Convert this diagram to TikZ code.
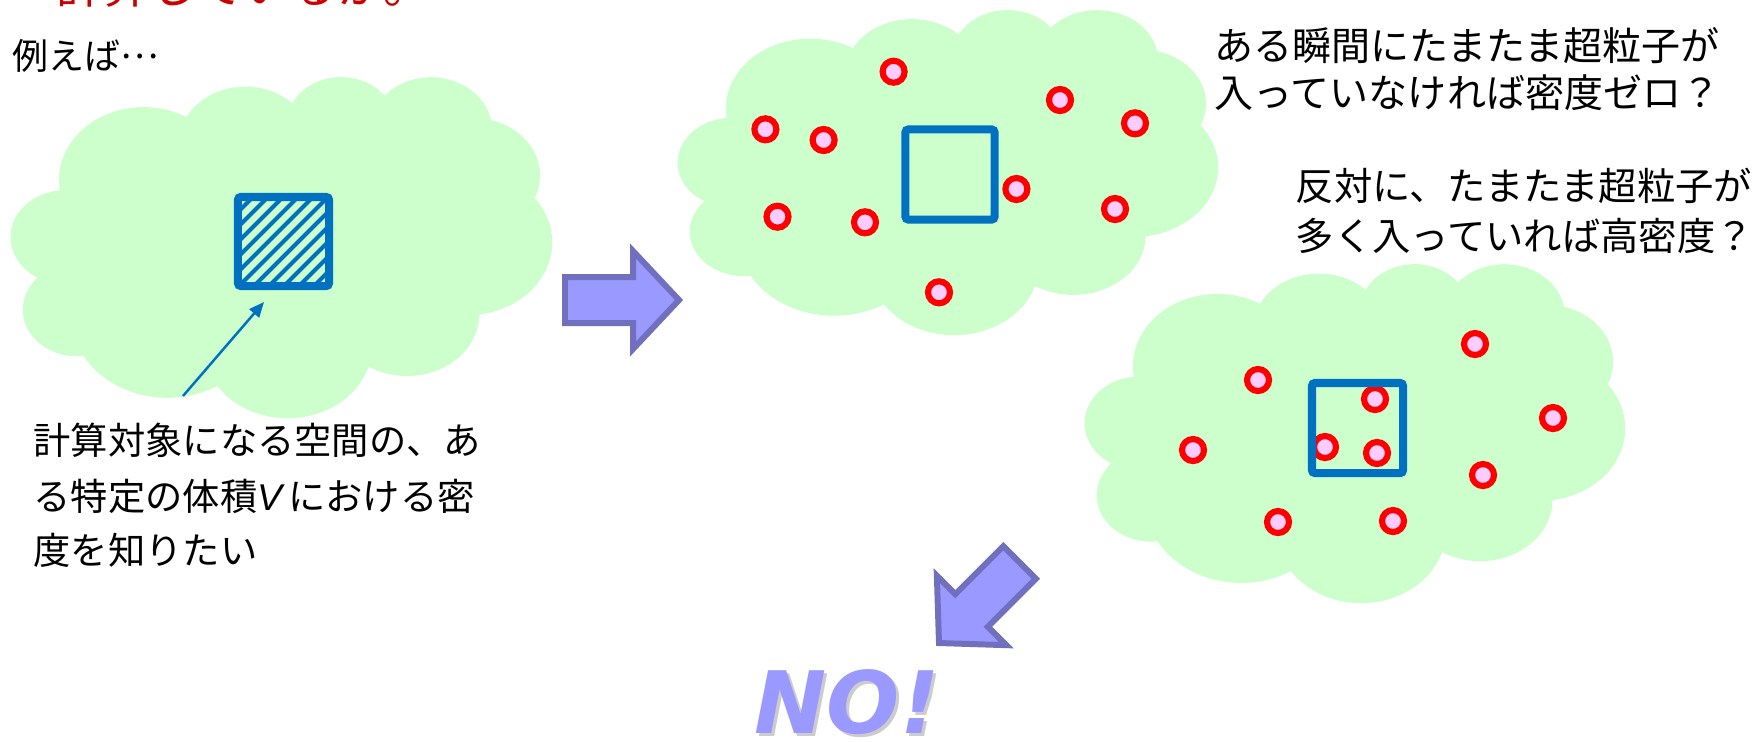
\documentclass[tikz,border=0pt]{standalone}
\usepackage{fontspec}
\setmainfont{Noto Sans CJK JP}
\newfontfamily\latinit{Liberation Sans}
\newfontfamily\nofont{DejaVu Sans}
\usetikzlibrary{arrows.meta}

\definecolor{cloudgreen}{RGB}{204,255,204}
\definecolor{dotpink}{RGB}{255,204,255}
\definecolor{dotred}{RGB}{255,0,0}
\definecolor{boxblue}{RGB}{0,112,192}
\definecolor{arrfill}{RGB}{153,153,255}
\definecolor{arrline}{RGB}{112,112,190}
\definecolor{titlered}{RGB}{204,0,0}

\makeatletter
% convert a DrawingML (view-angle) arc to parametric start/end angles
\newcommand\cldcalc[5]{%
  \pgfmathsetmacro\cld@b{#4+#5}%
  \pgfmathsetmacro\cld@s{atan2(#2*sin(#4), #3*cos(#4))}%
  \pgfmathsetmacro\cld@e{atan2(#2*sin(\cld@b), #3*cos(\cld@b))}%
  \pgfmathsetmacro\cld@d{mod(\cld@e-\cld@s+720,360)}%
  \pgfmathsetmacro\cld@e{\cld@s+\cld@d}%
  \expandafter\xdef\csname cldS#1\endcsname{\cld@s}%
  \expandafter\xdef\csname cldE#1\endcsname{\cld@e}%
}
\makeatother
\cldcalc{a}{675.3}{919.0}{-190.4875}{123.7805}
\cldcalc{b}{533.3}{726.7}{-144.1024}{89.9452}
\cldcalc{c}{436.5}{594.5}{-145.8079}{99.7230}
\cldcalc{d}{485.7}{659.5}{-130.9861}{117.2417}
\cldcalc{e}{533.3}{727.3}{-78.7089}{109.0269}
\cldcalc{f}{677.5}{922.0}{-46.2673}{130.2690}
\cldcalc{g}{578.5}{786.7}{0.6250}{114.0333}
\cldcalc{h}{675.2}{921.5}{22.4516}{115.1726}
\cldcalc{i}{772.0}{1054.3}{66.2426}{75.7110}
\cldcalc{j}{436.0}{591.8}{-274.9421}{146.7356}
\cldcalc{k}{434.5}{594.5}{-246.8285}{152.5189}

\tikzset{
  cloudshape/.style={insert path={(390,1437)
    arc[start angle=\cldSa, end angle=\cldEa, x radius=675.3, y radius=919.0]
    arc[start angle=\cldSb, end angle=\cldEb, x radius=533.3, y radius=726.7]
    arc[start angle=\cldSc, end angle=\cldEc, x radius=436.5, y radius=594.5]
    arc[start angle=\cldSd, end angle=\cldEd, x radius=485.7, y radius=659.5]
    arc[start angle=\cldSe, end angle=\cldEe, x radius=533.3, y radius=727.3]
    arc[start angle=\cldSf, end angle=\cldEf, x radius=677.5, y radius=922.0]
    arc[start angle=\cldSg, end angle=\cldEg, x radius=578.5, y radius=786.7]
    arc[start angle=\cldSh, end angle=\cldEh, x radius=675.2, y radius=921.5]
    arc[start angle=\cldSi, end angle=\cldEi, x radius=772.0, y radius=1054.3]
    arc[start angle=\cldSj, end angle=\cldEj, x radius=436.0, y radius=591.8]
    arc[start angle=\cldSk, end angle=\cldEk, x radius=434.5, y radius=594.5]
    -- cycle}},
  blockarrow/.pic={\draw[arrowshape] (0,-23) -- (68,-23) -- (68,-49) -- (114,0)
      -- (68,49) -- (68,23) -- (0,23) -- cycle;}
}

\begin{document}
\begin{tikzpicture}[x=0.01cm, y=-0.01cm,
  pdot/.style={circle, draw=dotred, fill=dotpink, line width=1.75pt,
    minimum size=0.22cm, inner sep=0pt},
  sqbox/.style={draw=boxblue, line width=2.28pt, rounded corners=0.8pt, inner sep=0pt},
  stripe/.style={draw=boxblue, line width=1.15pt},
  arrowshape/.style={fill=arrfill, draw=arrline, line width=1.7pt, line join=miter},
  thinarrow/.style={draw=boxblue, line width=0.7pt, -{Triangle[length=4.3pt, width=3.6pt]}},
  jptext/.style={inner sep=0pt, anchor=base west, text=black},
  ltfont/.style={font=\fontsize{10.6pt}{13pt}\selectfont},
  rtfont/.style={font=\fontsize{11.1pt}{13pt}\selectfont},
  rtfontb/.style={font=\fontsize{10.9pt}{13pt}\selectfont},
  nostyle/.style={inner sep=0pt, anchor=base west, text depth=0pt,
    font=\nofont\bfseries\itshape\fontsize{24.5pt}{28pt}\selectfont},
]
\useasboundingbox (0,0) rectangle (1758,741);
\fill[white] (0,0) rectangle (1758,741);

% clouds
\begin{scope}[shift={(11,76)}, xscale=541/4320, yscale=341/4320]
  \fill[cloudgreen, cloudshape];
\end{scope}
\begin{scope}[shift={(678,9)}, xscale=540/4320, yscale=325/4320]
  \fill[cloudgreen, cloudshape];
\end{scope}
\begin{scope}[shift={(1085,263)}, xscale=540/4320, yscale=339/4320]
  \fill[cloudgreen, cloudshape];
\end{scope}

% hatched volume V
\begin{scope}
  \clip (238,197) rectangle (329,286);
  \foreach \c in {435,450,...,630} \draw[stripe] (\c-170,170) -- (\c-320,320);
\end{scope}
\node[sqbox, minimum width=0.91cm, minimum height=0.89cm] (sqA) at (283.5,241.5) {};

% cloud 2 particles
\foreach \n/\p in {1/{893.6,71.7}, 2/{765.4,129.3}, 3/{823.6,140}, 4/{1060,100},
  5/{1135,123.3}, 6/{1016.4,189}, 7/{777.5,216.7}, 8/{865,222.3}, 9/{1115,209},
  10/{939,292.3}}
  \node[pdot] (b\n) at (\p) {};
\node[sqbox, minimum width=0.89cm, minimum height=0.90cm] (sqB) at (950,174.5) {};

% cloud 3 particles
\foreach \n/\p in {1/{1258,380}, 2/{1475,344}, 3/{1193,450}, 4/{1375,399},
  5/{1325,447}, 6/{1377,453}, 7/{1553,418}, 8/{1483,475}, 9/{1278,522},
  10/{1393,521}}
  \node[pdot] (c\n) at (\p) {};
\node[sqbox, minimum width=0.91cm, minimum height=0.90cm] (sqC) at (1357.5,428) {};

% block arrows
\pic (arrR) at (565,300) {blockarrow};
\pic[rotate=225] (arrD) at (1019.6,562.4) {blockarrow};

% pointer arrow
\coordinate (ptrTail) at (183,396);
\coordinate (ptrTip) at (264,302);
\draw[thinarrow] (ptrTail) -- (ptrTip);

% texts
\node[jptext, text=titlered, font=\fontsize{13.37pt}{16pt}\selectfont] (title) at (56,3) {計算しているか。};
\node[jptext, font=\fontsize{10.24pt}{12pt}\selectfont] (eg) at (12,69) {例えば\raisebox{0.3em}{…}};
\node[jptext, ltfont] (l1) at (33,454) {計算対象になる空間の、あ};
\node[jptext, ltfont] (l2) at (33,510) {る特定の体積{\latinit\itshape V}\,における密};
\node[jptext, ltfont] (l3) at (33,564) {度を知りたい};
\node[jptext, rtfont] (r1) at (1214,60) {ある瞬間にたまたま超粒子が};
\node[jptext, rtfont] (r2) at (1214,107) {入っていなければ密度ゼロ？};
\node[jptext, rtfontb] (r3) at (1295,200) {反対に、たまたま超粒子が};
\node[jptext, rtfontb] (r4) at (1295,250) {多く入っていれば高密度？};

% NO!
\node[nostyle, text=black, opacity=0.2] (noShadow) at (757,736) {NO!};
\node[nostyle, text=arrfill] (no) at (754,733) {NO!};
\end{tikzpicture}
\end{document}
